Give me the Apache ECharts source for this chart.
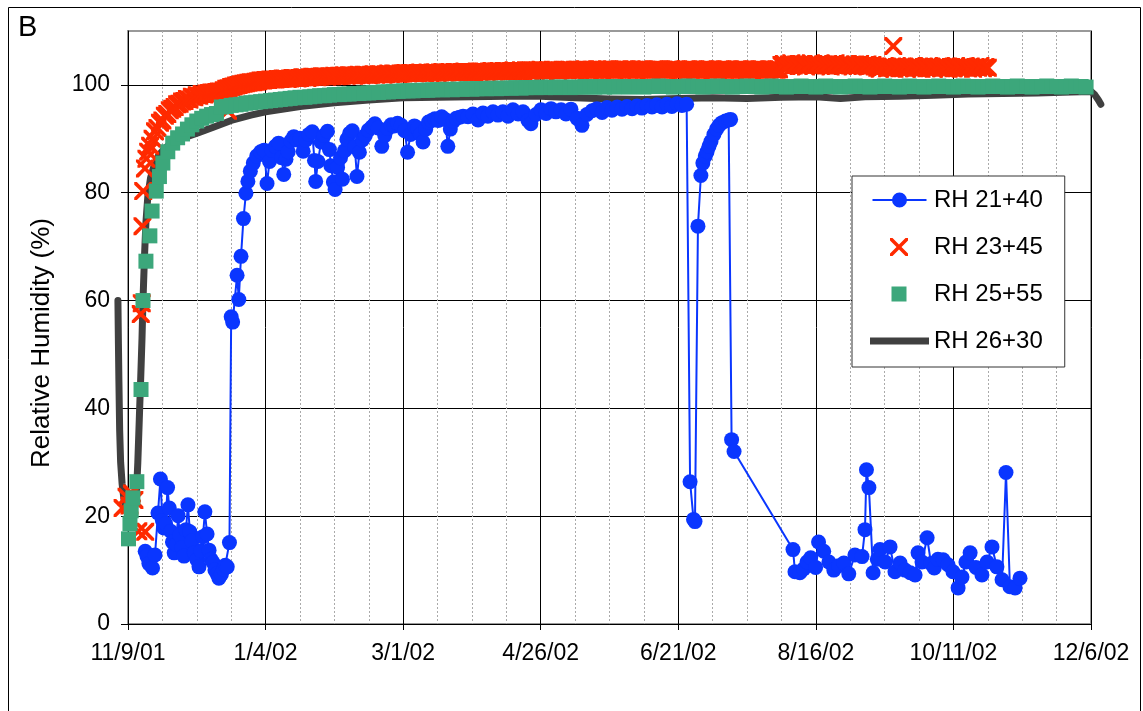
<!DOCTYPE html>
<html>
<head>
<meta charset="utf-8">
<script src="https://cdn.jsdelivr.net/npm/echarts@6/dist/echarts.min.js"></script>
<style>html,body{margin:0;padding:0;background:#fff}#c{width:1143px;height:711px}</style>
</head>
<body>
<div id="c"></div>
<script>
// x values are days after 11/9/01
const tickLabels = ['11/9/01','1/4/02','3/1/02','4/26/02','6/21/02','8/16/02','10/11/02','12/6/02'];
const seriesNames = ['RH 21+40','RH 23+45','RH 25+55','RH 26+30'];
const yTitle = 'Relative Humidity (%)';
const panelLabel = 'B';

const blueData = [
[7.0,13.5],[7.7,12.6],[8.5,11.2],[10.0,10.4],[11.0,12.8],[12.2,20.6],[13.2,26.9],[14.0,19.2],[14.6,17.8],[15.3,18.6],
[16.1,25.3],[16.8,21.5],[17.4,17.2],[18.1,15.2],[18.8,13.2],[19.6,14.8],[20.4,20.1],[21.1,16.5],[22.0,14.2],[22.8,12.6],
[23.6,17.5],[24.4,22.1],[25.2,17.1],[26.0,15.4],[27.0,13.2],[28.1,11.9],[28.9,10.6],[29.7,13.6],[30.5,16.2],[31.3,20.8],
[32.2,16.7],[33.0,13.7],[33.8,12.0],[34.6,11.4],[35.4,10.0],[36.3,9.3],[37.0,8.5],[38.0,9.2],[38.8,10.2],[39.6,10.9],
[40.4,10.6],[41.3,15.1],
[42.0,57.0],[42.6,56.0],[44.4,64.7],[45.1,60.2],[46.0,68.2],[47.0,75.2],[48.0,79.9],[48.8,82.1],[49.8,84.0],[51.0,85.5],
[52.4,86.8],[54.0,87.6],[55.4,87.9],[56.6,81.7],[57.6,85.8],[58.6,87.9],[60.0,88.6],[61.3,89.2],[62.5,86.5],[63.4,83.4],
[64.3,86.2],[65.2,87.6],[66.3,89.6],[67.5,90.4],[68.8,89.8],[70.0,90.1],[71.3,87.7],[72.4,89.8],[73.6,90.8],[75.0,91.3],
[75.9,86.0],[76.4,82.1],[77.3,85.8],[78.6,89.4],[79.8,90.6],[81.2,91.4],[82.0,88.0],[82.6,85.0],[83.6,82.0],[84.3,80.6],
[85.3,84.7],[86.5,86.5],[87.3,82.5],[88.2,87.8],[89.1,89.9],[90.2,91.0],[91.3,91.5],[92.3,88.5],[93.2,83.0],[94.2,87.5],
[95.4,89.8],[96.6,90.6],[97.8,91.6],[99.2,92.2],[100.5,92.8],[101.8,92.0],[103.3,88.6],[104.5,90.6],[105.8,91.9],[107.1,92.6],
[108.4,92.4],[109.7,92.9],[111.2,92.5],[112.6,91.5],[113.8,87.5],[115.0,90.8],[116.6,92.4],[117.8,92.0],[119.0,90.8],[120.1,89.4],
[121.2,91.8],[122.3,93.1],[123.6,93.4],[124.9,93.7],[126.3,93.4],[127.7,94.1],[129.1,93.6],[130.2,88.6],[131.2,91.8],[132.4,93.2],
[133.6,93.8],[135.0,94.0],[136.4,94.2],
[138.4,94.1],[140.4,94.6],[142.5,93.5],[144.5,94.8],[146.5,94.2],[148.6,95.0],[150.6,94.4],[152.6,95.0],[154.7,94.2],[156.7,95.4],
[158.8,94.6],[160.8,95.0],[162.8,93.4],[164.0,92.8],[166.1,94.5],[168.1,95.4],[170.2,94.7],[172.2,95.6],[174.2,95.0],[176.3,95.4],
[178.3,94.6],[180.3,95.5],[182.8,93.8],[184.8,92.5],[186.8,94.5],[188.9,95.2],[190.9,95.6],[193.0,94.9],[195.0,95.8],[197.0,95.3],
[199.1,95.9],[201.1,95.5],[203.1,96.0],[205.2,95.6],[207.2,96.1],[209.2,95.7],[211.3,96.2],[213.3,95.9],[215.3,96.3],[217.4,95.9],
[219.4,96.4],[221.4,96.0],[223.5,96.5],[225.5,96.2],[227.4,96.4],
[228.8,26.4],[230.2,19.4],[230.8,19.0],[232.0,73.8],[233.2,83.2],[234.0,85.5],[235.0,86.8],[235.7,87.6],[236.5,88.6],[237.3,89.5],
[238.5,90.8],[239.6,91.8],[240.6,92.5],[241.8,93.0],[243.2,93.3],[244.5,93.5],[245.3,93.6],[245.7,34.2],[246.7,32.0],
[270.7,13.8],[271.5,9.7],[273.5,9.5],[275.0,10.2],[276.4,11.5],[277.9,12.3],[279.9,10.5],[281.1,15.2],[283.2,13.5],[285.3,11.5],
[287.3,10.0],[289.3,10.8],[291.4,11.3],[293.4,9.3],[295.9,12.8],[298.8,12.5],[300.0,17.5],[300.6,28.6],[301.6,25.3],[303.3,9.5],
[305.0,12.0],[306.1,13.8],[308.2,11.5],[310.2,14.3],[312.2,9.7],[314.3,11.3],[316.3,10.0],[318.4,9.5],[320.4,9.1],[321.6,13.2],
[323.2,11.5],[325.3,16.0],[326.9,11.2],[328.2,10.4],[329.7,12.0],[331.8,11.9],[333.8,11.0],[335.8,9.7],[337.9,6.7],[339.5,8.7],
[341.1,11.5],[342.8,13.2],[345.2,10.5],[347.6,9.1],[349.7,11.5],[351.7,14.3],[353.7,10.6],[355.8,8.2],[357.4,28.1],[359.0,6.9],
[361.1,6.7],[363.1,8.5]
];

// RH 23+45: irregular early / isolated readings, then daily readings from day 10 to day 350
const redPoints = [
[-2.2,21.5],[-0.6,23.6],[0.6,22.0],[1.6,24.2],[2.6,23.0],[4.2,17.2],[7.0,17.1],
[5.2,57.5],[5.6,59.5],[5.9,73.8],[6.2,80.3],[6.9,84.5],[7.5,86.3],[8.2,87.6],[9.0,88.7],
[40.7,95.2],[311.5,107.2]
];
const redDailyStart = 10;
const redDaily = [
90.0,91.4,92.0,93.0,93.4,94.3,94.6,95.3,95.6,95.9,
96.4,96.5,96.9,97.0,97.4,97.3,97.8,97.7,98.1,98.0,
98.3,98.2,
98.4,98.5,98.6,98.6,98.7,98.8,98.8,99.0,99.3,99.4,
99.6,99.7,99.9,100.0,100.1,100.2,100.3,100.4,100.5,100.5,
100.6,100.7,100.8,100.8,100.9,100.9,101.0,101.0,101.0,101.1,
101.1,101.2,101.2,101.1,101.2,101.3,101.3,101.2,101.3,101.4,
101.4,101.3,101.4,101.5,101.5,101.4,101.5,101.6,101.6,101.5,
101.6,101.6,101.7,101.6,101.7,101.7,101.8,101.7,101.8,101.8,
101.7,101.8,101.9,101.8,101.9,101.9,101.8,101.9,102.0,101.9,
102.0,102.0,101.9,102.0,102.1,102.0,102.1,102.1,102.0,102.1,
102.1,102.2,102.1,102.2,102.2,102.1,102.2,102.3,102.2,102.2,
102.3,102.2,102.3,102.3,102.2,102.3,102.4,102.3,102.3,102.4,
102.3,102.4,102.4,102.3,102.4,102.5,102.4,102.4,102.3,102.4,
102.5,102.4,102.5,102.5,102.4,102.5,102.6,102.5,102.5,102.6,
102.5,102.6,102.6,102.5,102.6,102.7,102.6,102.6,102.7,102.6,
102.7,102.6,102.7,102.7,102.6,102.7,102.8,102.7,102.6,102.7,
102.7,102.8,102.7,102.6,102.7,102.8,102.8,102.7,102.8,102.7,
102.8,102.8,102.7,102.8,102.9,102.8,102.7,102.8,102.8,102.9,
102.8,102.7,102.8,102.9,102.8,102.8,102.7,102.8,102.9,102.8,
102.9,102.8,102.8,102.9,102.8,102.7,102.8,102.9,102.8,102.8,
102.7,102.8,102.9,102.8,102.9,102.8,102.8,102.7,102.8,102.9,
102.8,102.9,102.8,102.7,102.8,102.9,102.8,102.8,102.9,102.8,
102.7,102.8,102.9,102.8,102.8,102.9,102.8,102.7,102.8,102.9,
102.8,102.8,102.9,102.8,102.7,102.8,102.9,102.8,102.8,102.9,
102.8,102.7,102.8,102.9,102.8,102.8,102.9,102.8,102.7,102.8,
102.9,102.8,102.8,102.9,103.7,103.9,103.5,103.8,104.0,103.6,
103.8,103.5,103.9,103.7,103.4,103.8,104.0,103.6,103.7,103.9,
103.5,103.8,103.6,103.9,103.4,103.7,104.0,103.6,103.8,103.5,
103.7,103.9,103.6,103.4,103.8,103.6,103.9,103.5,103.7,103.8,
103.5,103.7,103.4,103.2,103.0,103.3,103.5,103.1,103.2,103.4,
103.0,103.3,103.1,103.4,103.2,103.0,103.3,103.5,103.1,103.2,
103.4,103.0,103.3,103.1,103.5,103.2,103.0,103.3,103.4,103.1,
103.2,103.4,103.0,103.3,103.1,103.5,103.2,103.0,103.4,103.2,
103.1,103.4,103.0,103.3,103.2,103.5,103.1,103.3,103.2
];

// RH 25+55: early readings, then every 2 days from day 26
const greenPoints = [
[0.2,15.8],[0.8,18.6],[1.3,21.0],[2.0,23.4],[3.6,26.4],[5.3,43.5],[6.1,60.0],[7.3,67.3],[8.9,72.0],[9.8,76.6],
[11.5,80.3],[12.8,83.0],[14.2,85.5],[16.2,87.6],[18.2,89.2],[20.2,90.2],[22.2,90.9],[24.2,91.8]
];
const greenBandStart = 26;
const greenBand = [
92.6,93.3,93.8,94.2,94.5,94.7,95.9,96.0,96.2,96.3,
96.4,96.6,96.7,96.8,96.9,97.0,97.1,97.2,97.3,97.4,
97.5,97.6,97.7,97.7,97.8,97.9,98.0,98.0,98.1,98.2,
98.2,98.3,98.3,98.4,98.4,98.5,98.5,98.6,98.6,98.7,
98.7,98.8,98.8,98.9,98.9,98.9,99.0,99.0,99.0,99.1,
99.1,99.1,99.2,99.1,99.2,99.2,99.3,99.2,99.3,99.3,
99.3,99.4,99.3,99.4,99.4,99.4,99.5,99.4,99.5,99.5,
99.5,99.6,99.5,99.6,99.5,99.6,99.6,99.5,99.6,99.6,
99.7,99.6,99.6,99.7,99.6,99.7,99.6,99.7,99.7,99.6,
99.7,99.7,99.6,99.7,99.7,99.8,99.7,99.7,99.6,99.7,
99.7,99.8,99.7,99.7,99.6,99.7,99.7,99.8,99.7,99.7,
99.6,99.7,99.7,99.8,99.7,99.7,99.6,99.7,99.8,99.7,
99.7,99.6,99.7,99.7,99.8,99.7,99.7,99.6,99.7,99.8,
99.7,99.7,99.6,99.7,99.7,99.8,99.7,99.7,99.6,99.7,
99.7,99.8,99.7,99.7,99.6,99.7,99.8,99.7,99.7,99.6,
99.7,99.7,99.8,99.7,99.7,99.6,99.7,99.8,99.7,99.7,
99.6,99.7,99.7,99.8,99.7,99.7,99.6,99.7,99.8,99.7,
99.7,99.6,99.7,99.7,99.8,99.7,99.7,99.6,99.7,99.8,
99.7,99.7,99.6
];

// RH 26+30 (line)
const blackData = [
[-4.1,60],[-3.9,52],[-3.7,45],[-3.4,36],[-3.0,30],[-2.4,26],[-1.6,23],[-0.6,21],[0.6,19.8],[1.8,20],
[2.8,21.8],[3.5,25],[4.0,30],[4.6,38],[5.2,46],[5.7,53],[6.1,60],[6.7,68],[7.3,74.5],[8.1,79.5],
[9.2,82.8],[10.6,85.0],[12.3,86.8],[14.5,88.0],[17,89.0],[20,89.8],[24,90.4],[29,91.2],[35,92.2],[42,93.4],
[50,94.4],[56,95.0],[70,96.0],[84,96.7],[98,97.2],[112,97.6],[126,97.7],[140,97.8],[154,97.9],[168,97.9],
[182,97.6],[196,97.4],[210,97.3],[224,97.5],[238,97.6],[252,97.5],[266,97.7],[280,97.8],[290,97.5],[300,97.8],
[314,97.9],[328,98.1],[342,98.3],[356,98.4],[370,98.5],[384,98.7],[392,98.8],[393.5,98.2],[395,97.2],[396,96.4]
];

function stepSeries(start, step, vals){ return vals.map((v,i)=>[start+i*step, v]); }
const redData = redPoints.concat(stepSeries(redDailyStart,1,redDaily));
const greenData = greenPoints.concat(stepSeries(greenBandStart,2,greenBand));

const FONT = "'Liberation Sans', Arial, sans-serif";
const C_BLUE = '#0a36ff', C_RED = '#ff2a00', C_GREEN = '#3ca77b', C_BLACK = '#404040';
const X_PATH = 'path://M0,0L2.9,0L10,7.1L17.1,0L20,0L20,2.9L12.9,10L20,17.1L20,20L17.1,20L10,12.9L2.9,20L0,20L0,17.1L7.1,10L0,2.9Z';
const BOX = 'M0,0L0.01,0L0,0.01Z M59,18L58.99,18L59,17.99Z ';
const LEG_BLUE = 'path://' + BOX + 'M2.5,8H56.5V10H2.5Z M37,9A7.5,7.5 0 1 1 22,9A7.5,7.5 0 1 1 37,9Z';
const LEG_RED = 'path://' + BOX + 'M20,0L22.5,0L29,6.5L35.5,0L38,0L38,2.5L31.5,9L38,15.5L38,18L35.5,18L29,11.5L22.5,18L20,18L20,15.5L26.5,9L20,2.5Z';
const LEG_GREEN = 'path://' + BOX + 'M21.5,1.5H36.5V16.5H21.5Z';
const LEG_BLACK = 'path://' + BOX + 'M0,5.5H59V12.5H0Z';

// plot geometry: same scale for the hidden wide axis used by the line that starts before 11/9/01
const G = {left: 128, right: 52, top: 31, bottom: 87};
const pxPerDay = (1143 - G.left - G.right) / 392;

const chart = echarts.init(document.getElementById('c'), null, {renderer:'canvas'});
chart.setOption({
  animation: false,
  backgroundColor: '#fff',
  textStyle: {fontFamily: FONT},
  grid: [
    {left: G.left, right: G.right, top: G.top, bottom: G.bottom, show: true, borderColor: '#999', borderWidth: 2, backgroundColor: 'transparent'},
    {left: G.left - 10*pxPerDay, right: G.right - 8*pxPerDay, top: G.top, bottom: G.bottom, show: false}
  ],
  xAxis: [{
    type: 'value', min: 0, max: 392, interval: 56, gridIndex: 0,
    axisLine: {onZero: false, lineStyle: {color: '#000', width: 1}},
    axisTick: {show: true, length: 6, lineStyle: {color: '#000'}},
    axisLabel: {fontSize: 23, color: '#000', margin: 18, fontFamily: FONT,
      formatter: v => tickLabels[Math.round(v/56)] || ''},
    splitLine: {show: true, lineStyle: {color: '#000', width: 1}},
    minorTick: {show: false, splitNumber: 4},
    minorSplitLine: {show: true, lineStyle: {color: '#aaa', width: 1, type: [2,2]}}
  }, {
    type: 'value', min: -10, max: 400, gridIndex: 1, show: false
  }],
  yAxis: [{
    type: 'value', min: 0, max: 110, interval: 20, gridIndex: 0,
    axisLine: {lineStyle: {color: '#000', width: 1}},
    axisTick: {show: true, length: 7, lineStyle: {color: '#000'}, customValues: [0,20,40,60,80,100]},
    axisLabel: {fontSize: 23, color: '#000', margin: 18, fontFamily: FONT, customValues: [0,20,40,60,80,100]},
    splitLine: {show: true, lineStyle: {color: '#000', width: 1}}
  }, {
    type: 'value', min: 0, max: 110, gridIndex: 1, show: false
  }],
  legend: {
    orient: 'vertical', left: 852, top: 176,
    padding: [10, 22, 12, 18], itemGap: 19, itemWidth: 59, itemHeight: 18,
    backgroundColor: '#fff', borderColor: '#333', borderWidth: 1,
    textStyle: {fontSize: 24, color: '#000', fontFamily: FONT, lineHeight: 28},
    symbolKeepAspect: true,
    data: [
      {name: seriesNames[0], icon: LEG_BLUE, itemStyle: {color: C_BLUE}},
      {name: seriesNames[1], icon: LEG_RED, itemStyle: {color: C_RED}},
      {name: seriesNames[2], icon: LEG_GREEN, itemStyle: {color: C_GREEN}},
      {name: seriesNames[3], icon: LEG_BLACK, itemStyle: {color: C_BLACK}}
    ]
  },
  graphic: [
    {type: 'rect', silent: true, z: -1, shape: {x: 8.5, y: 7.5, width: 1132, height: 720}, style: {fill: 'none', stroke: '#000', lineWidth: 1}},
    {type: 'text', left: 18, top: 13, style: {text: panelLabel, fontSize: 29, fontFamily: FONT, fill: '#000'}},
    {type: 'text', x: 42, y: 343, rotation: Math.PI/2, silent: true,
     style: {text: yTitle, fontSize: 26, fontFamily: FONT, fill: '#000', align: 'center', verticalAlign: 'middle'}}
  ],
  series: [
    {name: seriesNames[3], type: 'line', xAxisIndex: 1, yAxisIndex: 1, data: blackData, symbol: 'none', clip: false, z: 1,
     lineStyle: {color: C_BLACK, width: 7, join: 'round', cap: 'round'}, itemStyle: {color: C_BLACK}},
    {name: seriesNames[0], type: 'line', data: blueData, symbol: 'circle', symbolSize: 15, showAllSymbol: true, clip: false, z: 2,
     lineStyle: {color: C_BLUE, width: 2}, itemStyle: {color: C_BLUE}},
    {name: seriesNames[1], type: 'scatter', data: redData, symbol: X_PATH, symbolSize: 18, symbolKeepAspect: true, clip: false, z: 3,
     itemStyle: {color: C_RED, opacity: 1}},
    {name: seriesNames[2], type: 'scatter', data: greenData, symbol: 'rect', symbolSize: 15, clip: false, z: 4,
     itemStyle: {color: C_GREEN, opacity: 1}}
  ]
});
</script>
</body>
</html>
